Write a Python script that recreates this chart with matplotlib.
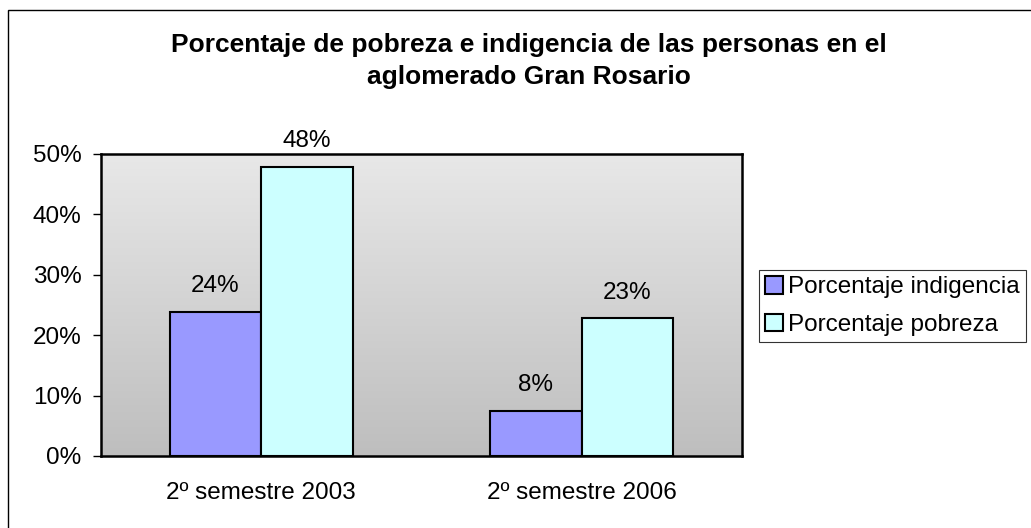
import numpy as np
import matplotlib
matplotlib.use("Agg")
import matplotlib.pyplot as plt
from matplotlib.patches import Rectangle

plt.rcParams['font.family'] = ['Liberation Sans', 'DejaVu Sans']

categories = ['2º semestre 2003', '2º semestre 2006']
series_names = ['Porcentaje indigencia', 'Porcentaje pobreza']
indigencia = [0.239, 0.075]
pobreza = [0.479, 0.228]
yticks = [0, 0.1, 0.2, 0.3, 0.4, 0.5]
colors = ['#9999FF', '#CCFFFF']

fig = plt.figure(figsize=(10.31, 5.28), dpi=100)
# outer chart border
fig.patches.append(Rectangle((8/1031, -0.1), 1.2, (518/528) + 0.1, transform=fig.transFigure,
                             fill=False, edgecolor='black', linewidth=1.0))

ax = fig.add_axes([101/1031, 72/528, 641/1031, 302/528])

# gray gradient in the plot area
grad = np.linspace(0, 1, 256).reshape(-1, 1)
ax.imshow(grad, cmap=matplotlib.colors.LinearSegmentedColormap.from_list('g', ['#E8E8E8', '#BEBEBE']),
          extent=[0, 1, 0, 1], transform=ax.transAxes, aspect='auto', zorder=0)

x = np.arange(len(categories))
w = 1 / 3.5
b1 = ax.bar(x - w/2, indigencia, w, color=colors[0], edgecolor='black', linewidth=1.5,
            label=series_names[0], zorder=2)
b2 = ax.bar(x + w/2, pobreza, w, color=colors[1], edgecolor='black', linewidth=1.5,
            label=series_names[1], zorder=2)

for bars, vals in ((b1, indigencia), (b2, pobreza)):
    for r, v in zip(bars, vals):
        ax.annotate(f'{v*100:.0f}%', (r.get_x() + r.get_width()/2, v), xytext=(0, 18.5),
                    textcoords='offset points', ha='center', va='center', fontsize=17.5)

ax.set_xlim(-0.5, 1.5)
ax.set_ylim(0, 0.5)
ax.set_yticks(yticks)
ax.set_yticklabels([f'{t*100:.0f}%' for t in yticks], fontsize=17.5)
ax.set_xticks(x)
ax.set_xticklabels(categories, fontsize=17.5)
ax.tick_params(axis='y', direction='out', length=6, width=1, pad=8)
ax.tick_params(axis='x', length=0, pad=19)
for s in ax.spines.values():
    s.set_linewidth(1.8)

fig.text(0.513, 0.884, 'Porcentaje de pobreza e indigencia de las personas en el\naglomerado Gran Rosario',
         ha='center', va='center', fontsize=19, fontweight='bold', linespacing=1.42)

leg = fig.legend(handles=[b1, b2], loc='center left', bbox_to_anchor=(759/1031, 222/528),
                 fontsize=17.5, frameon=True, fancybox=False, edgecolor='black',
                 handlelength=0.75, handleheight=0.75, handletextpad=0.2,
                 borderpad=0.25, labelspacing=0.62, borderaxespad=0)
leg.get_frame().set_linewidth(0.8)

fig.savefig('out.png', dpi=100)
